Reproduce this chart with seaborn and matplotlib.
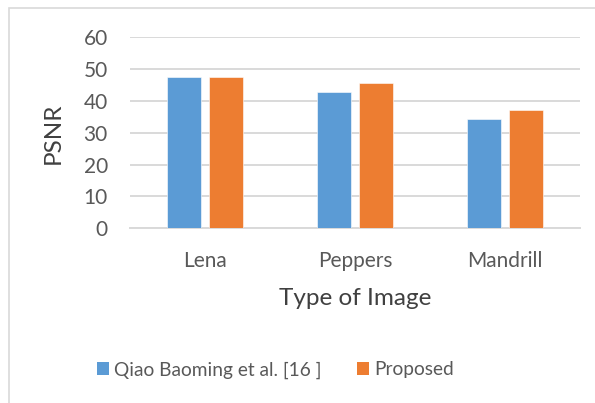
import matplotlib
matplotlib.use("Agg")
import matplotlib.pyplot as plt
from matplotlib.patches import Rectangle, Patch
import pandas as pd
import seaborn as sns

# PSNR comparison per test image
images = ["Lena", "Peppers", "Mandrill"]
qiao_psnr = [47.5, 42.9, 34.2]
proposed_psnr = [47.6, 45.6, 37.1]
methods = ["Qiao Baoming et al. [16 ]", "Proposed"]
y_ticks = [0, 10, 20, 30, 40, 50, 60]

df = pd.DataFrame({
    "image": images * 2,
    "psnr": qiao_psnr + proposed_psnr,
    "method": [methods[0]] * len(images) + [methods[1]] * len(images),
})

sns.set_theme(style="white")
plt.rcParams["font.family"] = ["Lato", "DejaVu Sans"]

blue = "#5B9BD5"
orange = "#ED7D31"
grid_c = "#D9D9D9"
tick_c = "#595959"
label_c = "#404040"

fig = plt.figure(figsize=(5.95, 4.03), dpi=100)
ax = fig.add_axes([130 / 595, 1 - 228.3 / 403, 450 / 595, 191 / 403])

sns.barplot(data=df, x="image", y="psnr", hue="method",
            palette=[blue, orange], saturation=1, width=0.565, gap=0.21,
            edgecolor="white", linewidth=0.4, ax=ax, zorder=3)

ax.set_xlim(-0.5, 2.5)
ax.set_ylim(0, 60)
ax.set_yticks(y_ticks)
ax.set_yticklabels([str(t) for t in y_ticks])
ax.yaxis.grid(True, color=grid_c, linewidth=1.4, zorder=0)
ax.set_axisbelow(True)
for side in ["top", "right", "left"]:
    ax.spines[side].set_visible(False)
ax.spines["bottom"].set_color(grid_c)
ax.spines["bottom"].set_linewidth(1.4)
ax.spines["bottom"].set_zorder(1)
ax.tick_params(axis="both", length=0, labelsize=15, colors=tick_c)
ax.tick_params(axis="y", pad=16)
ax.tick_params(axis="x", pad=16)

ax.set_xlabel("Type of Image", fontsize=17.5, color=label_c, labelpad=12.5)
ax.set_ylabel("PSNR", fontsize=17.5, color=label_c, labelpad=14)

ax.get_legend().remove()
handles = [Patch(facecolor=blue, edgecolor="none"),
           Patch(facecolor=orange, edgecolor="none")]
fig.legend(handles, methods, loc="center", bbox_to_anchor=(0.463, 0.082),
           ncol=2, frameon=False, fontsize=13.8, labelcolor=tick_c,
           handlelength=0.62, handleheight=0.62, handletextpad=0.28,
           columnspacing=1.85)

# chart area border
fig.patches.append(Rectangle((9 / 595, -0.1), 1.2, (403 - 8) / 403 + 0.1,
                             transform=fig.transFigure, fill=False,
                             edgecolor=grid_c, linewidth=1.2))

fig.savefig("out.png", dpi=100)
